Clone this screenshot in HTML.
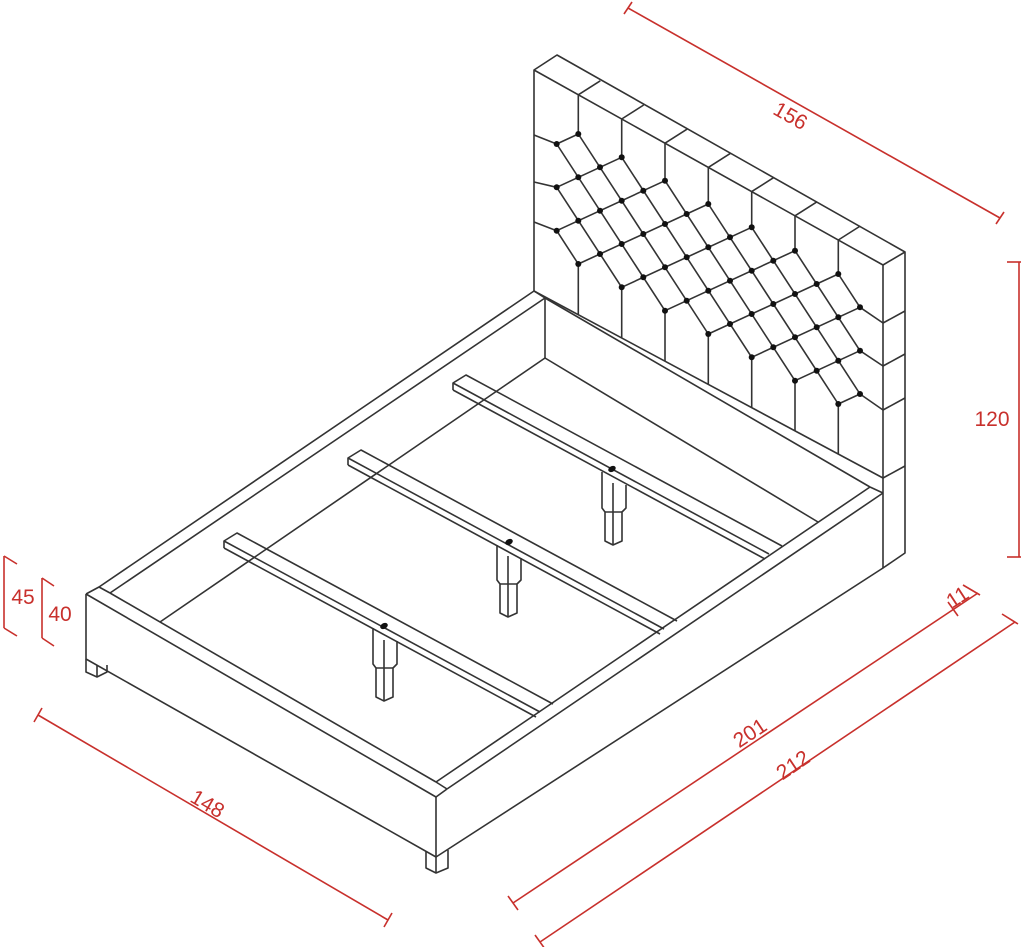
<!DOCTYPE html>
<html><head><meta charset="utf-8"><style>
html,body{margin:0;padding:0;background:#fff;}
svg{display:block;}
text{font-family:"Liberation Sans",sans-serif;fill:#c8302c;font-size:21px;}
</style></head><body>
<svg width="1024" height="947" viewBox="0 0 1024 947" xmlns="http://www.w3.org/2000/svg">
<g fill="none" stroke="#333" stroke-width="1.6" stroke-linejoin="round">
<!-- headboard outline -->
<polyline points="534,291 534,70 557,55 905,252 905,553 883,568 883,265 534,70"/>
<line x1="883" y1="265" x2="905" y2="252"/>
<!-- top dividers -->
<line x1="578.3" y1="94.8" x2="600.3" y2="80.8"/>
<line x1="621.7" y1="119" x2="643.7" y2="105"/>
<line x1="665" y1="143.2" x2="687" y2="129.2"/>
<line x1="708.3" y1="167.4" x2="730.3" y2="153.4"/>
<line x1="751.7" y1="191.6" x2="773.7" y2="177.6"/>
<line x1="795" y1="215.8" x2="817" y2="201.8"/>
<line x1="838.3" y1="240" x2="860.3" y2="226"/>
<!-- columns top -->
<line x1="578.3" y1="94.8" x2="578.3" y2="134"/>
<line x1="621.7" y1="119" x2="621.7" y2="157.3"/>
<line x1="665" y1="143.2" x2="665" y2="180.7"/>
<line x1="708.3" y1="167.4" x2="708.3" y2="204"/>
<line x1="751.7" y1="191.6" x2="751.7" y2="227.3"/>
<line x1="795" y1="215.8" x2="795" y2="250.7"/>
<line x1="838.3" y1="240" x2="838.3" y2="274"/>
<!-- columns bottom -->
<line x1="578.3" y1="264" x2="578.3" y2="314.7"/>
<line x1="621.7" y1="287.3" x2="621.7" y2="337.9"/>
<line x1="665" y1="310.7" x2="665" y2="361.1"/>
<line x1="708.3" y1="334" x2="708.3" y2="384.3"/>
<line x1="751.7" y1="357.3" x2="751.7" y2="407.5"/>
<line x1="795" y1="380.7" x2="795" y2="430.6"/>
<line x1="838.3" y1="404" x2="838.3" y2="453.8"/>
<!-- left tiles -->
<line x1="534" y1="135" x2="556.7" y2="144"/>
<line x1="534" y1="182" x2="556.7" y2="187.3"/>
<line x1="534" y1="222" x2="556.7" y2="230.7"/>
<!-- right tiles -->
<line x1="860" y1="307.3" x2="883" y2="323"/>
<line x1="860" y1="350.7" x2="883" y2="366"/>
<line x1="860" y1="394" x2="883" y2="410"/>
<line x1="883" y1="323" x2="905" y2="311"/>
<line x1="883" y1="366" x2="905" y2="354"/>
<line x1="883" y1="410" x2="905" y2="398"/>
<line x1="883" y1="478" x2="905" y2="466"/>
<!-- mesh fixed i -->
<line x1="556.7" y1="230.7" x2="578.3" y2="264"/>
<line x1="556.7" y1="187.3" x2="621.7" y2="287.3"/>
<line x1="556.7" y1="144" x2="665" y2="310.7"/>
<line x1="578.3" y1="134" x2="708.3" y2="334"/>
<line x1="621.7" y1="157.3" x2="751.7" y2="357.3"/>
<line x1="665" y1="180.7" x2="795" y2="380.7"/>
<line x1="708.3" y1="204" x2="838.3" y2="404"/>
<line x1="751.7" y1="227.3" x2="860" y2="394"/>
<line x1="795" y1="250.7" x2="860" y2="350.7"/>
<line x1="838.3" y1="274" x2="860" y2="307.3"/>
<!-- mesh fixed j -->
<line x1="556.7" y1="144" x2="578.3" y2="134"/>
<line x1="556.7" y1="187.3" x2="621.7" y2="157.3"/>
<line x1="556.7" y1="230.7" x2="665" y2="180.7"/>
<line x1="578.3" y1="264" x2="708.3" y2="204"/>
<line x1="621.7" y1="287.3" x2="751.7" y2="227.3"/>
<line x1="665" y1="310.7" x2="795" y2="250.7"/>
<line x1="708.3" y1="334" x2="838.3" y2="274"/>
<line x1="751.7" y1="357.3" x2="860" y2="307.3"/>
<line x1="795" y1="380.7" x2="860" y2="350.7"/>
<line x1="838.3" y1="404" x2="860" y2="394"/>

<!-- frame -->
<line x1="534" y1="291" x2="883" y2="478"/>
<line x1="545" y1="298" x2="870" y2="487"/>
<line x1="534" y1="291" x2="545" y2="298"/>
<polyline points="86,594 99,587 534,291"/>
<line x1="99" y1="587" x2="110" y2="593"/>
<line x1="110" y1="593" x2="545" y2="298"/>
<line x1="545" y1="298" x2="545" y2="358"/>
<line x1="545" y1="358" x2="160" y2="622"/>
<line x1="545" y1="358" x2="818" y2="522"/>
<line x1="110" y1="593" x2="436" y2="782"/>
<line x1="86" y1="594" x2="436" y2="797"/>
<line x1="436" y1="782" x2="447" y2="789"/>
<line x1="436" y1="797" x2="447" y2="789"/>
<line x1="436" y1="782" x2="870" y2="487"/>
<line x1="447" y1="789" x2="883" y2="493"/>
<line x1="870" y1="487" x2="883" y2="493"/>
<polyline points="86,594 86,659 436,857 436,797"/>
<line x1="436" y1="857" x2="883" y2="568"/>
<!-- feet -->
<polyline points="86,659 86,672 97,677 107,672 107,665"/>
<line x1="97" y1="677" x2="97" y2="665"/>
<polyline points="426,851 426,868 436,873 448,868 448,850"/>
<line x1="436" y1="873" x2="436" y2="857"/>

<!-- slats -->
<g id="s1">
<polyline points="224,548 224,541 237,533 553,704"/>
<line x1="224" y1="541" x2="540" y2="712"/>
<line x1="224" y1="548" x2="536" y2="717"/>
<polyline points="373,628 373,664 376,668 376,697 384,701 393,697 393,668 397,664 397,641"/>
<line x1="384" y1="640" x2="384" y2="701"/>
<line x1="376" y1="668" x2="393" y2="668"/>
</g>
<g>
<polyline points="348,465 348,458 361,450 677,621"/>
<line x1="348" y1="458" x2="664" y2="629"/>
<line x1="348" y1="465" x2="660" y2="634"/>
<polyline points="497,545 497,580 500,584 500,613 508,617 517,613 517,584 521,580 521,558"/>
<line x1="508" y1="556" x2="508" y2="617"/>
<line x1="500" y1="584" x2="517" y2="584"/>
</g>
<g>
<polyline points="453,390 453,383 466,375 782,546"/>
<line x1="453" y1="383" x2="769" y2="554"/>
<line x1="453" y1="390" x2="765" y2="559"/>
<polyline points="602,472 602,508 605,512 605,541 613,545 622,541 622,512 626,508 626,485"/>
<line x1="613" y1="483" x2="613" y2="545"/>
<line x1="605" y1="512" x2="622" y2="512"/>
</g>
</g>
<g fill="#111">
<ellipse cx="384" cy="626" rx="4" ry="2.8" transform="rotate(-28 384 626)"/>
<ellipse cx="509" cy="542" rx="4" ry="2.8" transform="rotate(-28 509 542)"/>
<ellipse cx="612" cy="469" rx="4" ry="2.8" transform="rotate(-28 612 469)"/>
<g>
<circle cx="556.7" cy="230.7" r="3"/><circle cx="578.3" cy="264" r="3"/>
<circle cx="556.7" cy="187.3" r="3"/><circle cx="578.3" cy="220.7" r="3"/><circle cx="600" cy="254" r="3"/><circle cx="621.7" cy="287.3" r="3"/>
<circle cx="556.7" cy="144" r="3"/><circle cx="578.3" cy="177.3" r="3"/><circle cx="600" cy="210.7" r="3"/><circle cx="621.7" cy="244" r="3"/><circle cx="643.3" cy="277.3" r="3"/><circle cx="665" cy="310.7" r="3"/>
<circle cx="578.3" cy="134" r="3"/><circle cx="600" cy="167.3" r="3"/><circle cx="621.7" cy="200.7" r="3"/><circle cx="643.3" cy="234" r="3"/><circle cx="665" cy="267.3" r="3"/><circle cx="686.7" cy="300.7" r="3"/><circle cx="708.3" cy="334" r="3"/>
<circle cx="621.7" cy="157.3" r="3"/><circle cx="643.3" cy="190.7" r="3"/><circle cx="665" cy="224" r="3"/><circle cx="686.7" cy="257.3" r="3"/><circle cx="708.3" cy="290.7" r="3"/><circle cx="730" cy="324" r="3"/><circle cx="751.7" cy="357.3" r="3"/>
<circle cx="665" cy="180.7" r="3"/><circle cx="686.7" cy="214" r="3"/><circle cx="708.3" cy="247.3" r="3"/><circle cx="730" cy="280.7" r="3"/><circle cx="751.7" cy="314" r="3"/><circle cx="773.3" cy="347.3" r="3"/><circle cx="795" cy="380.7" r="3"/>
<circle cx="708.3" cy="204" r="3"/><circle cx="730" cy="237.3" r="3"/><circle cx="751.7" cy="270.7" r="3"/><circle cx="773.3" cy="304" r="3"/><circle cx="795" cy="337.3" r="3"/><circle cx="816.7" cy="370.7" r="3"/><circle cx="838.3" cy="404" r="3"/>
<circle cx="751.7" cy="227.3" r="3"/><circle cx="773.3" cy="260.7" r="3"/><circle cx="795" cy="294" r="3"/><circle cx="816.7" cy="327.3" r="3"/><circle cx="838.3" cy="360.7" r="3"/><circle cx="860" cy="394" r="3"/>
<circle cx="795" cy="250.7" r="3"/><circle cx="816.7" cy="284" r="3"/><circle cx="838.3" cy="317.3" r="3"/><circle cx="860" cy="350.7" r="3"/>
<circle cx="838.3" cy="274" r="3"/><circle cx="860" cy="307.3" r="3"/>
</g>
</g>

<!-- dimensions -->
<g stroke="#c8302c" stroke-width="1.6" fill="none">
<line x1="628" y1="8" x2="1000" y2="218"/>
<line x1="624" y1="14" x2="632" y2="2"/>
<line x1="996" y1="224" x2="1004" y2="212"/>
<line x1="1019" y1="262" x2="1019" y2="557"/>
<line x1="1007" y1="262" x2="1021" y2="262"/>
<line x1="1007" y1="557" x2="1021" y2="557"/>
<line x1="4" y1="556" x2="4" y2="628"/>
<line x1="4" y1="556" x2="17" y2="564"/>
<line x1="4" y1="628" x2="17" y2="636"/>
<line x1="42" y1="578" x2="42" y2="638"/>
<line x1="42" y1="578" x2="54" y2="586"/>
<line x1="42" y1="638" x2="54" y2="646"/>
<line x1="38" y1="715" x2="388" y2="920"/>
<line x1="34" y1="722" x2="42" y2="708"/>
<line x1="384" y1="927" x2="392" y2="913"/>
<line x1="513" y1="903" x2="978" y2="593"/>
<line x1="508" y1="896" x2="518" y2="910"/>
<line x1="948" y1="602" x2="958" y2="616"/>
<line x1="963" y1="585" x2="980" y2="595"/>
<line x1="540" y1="942" x2="1015" y2="622"/>
<line x1="535" y1="935" x2="545" y2="949"/>
<line x1="1002" y1="614" x2="1018" y2="624"/>
</g>
<g>
<text x="791" y="123" text-anchor="middle" transform="rotate(29.4 791 115)">156</text>
<text x="992" y="426" text-anchor="middle">120</text>
<text x="23" y="604" text-anchor="middle">45</text>
<text x="60" y="621" text-anchor="middle">40</text>
<text x="208" y="811" text-anchor="middle" transform="rotate(30.4 208 803)">148</text>
<text x="750" y="740" text-anchor="middle" transform="rotate(-33.7 750 733)">201</text>
<text x="793" y="772" text-anchor="middle" transform="rotate(-34 793 765)">212</text>
<text x="958" y="604" text-anchor="middle" font-size="16" transform="rotate(-33 958 598)">11</text>
</g>
</svg>
</body></html>
